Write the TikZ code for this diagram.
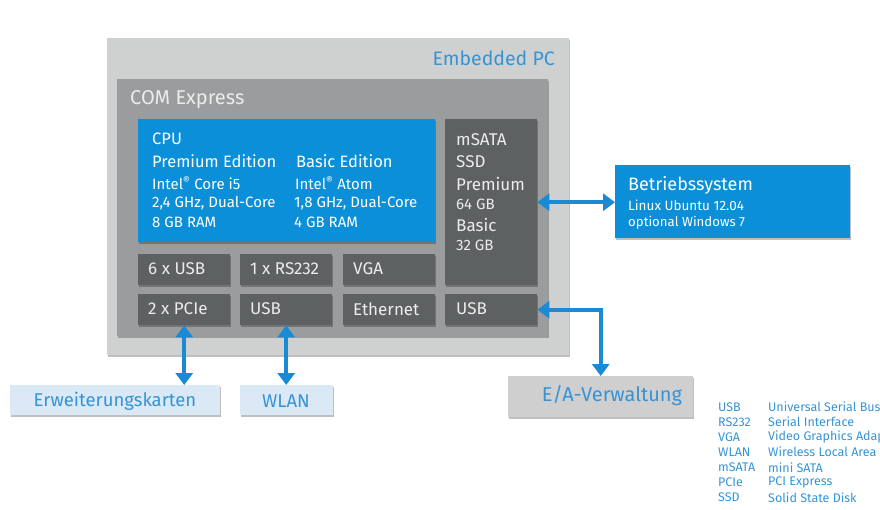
\documentclass[tikz,border=0pt]{standalone}
\usepackage{fontspec}
\setmainfont{Fira Sans}
\usetikzlibrary{arrows.meta,shadows}
\definecolor{outerGray}{HTML}{CFD0D0}
\definecolor{comGray}{HTML}{9A9C9D}
\definecolor{darkGray}{HTML}{5E6162}
\definecolor{cpuBlue}{HTML}{0A8FD8}
\definecolor{lightBlue}{HTML}{DBE9F6}
\definecolor{blueText}{HTML}{3594D6}
\definecolor{arrowBlue}{HTML}{1A8AD4}
\definecolor{boxText}{HTML}{ECECEC}
\definecolor{eaGray}{HTML}{CFCFCF}
\begin{document}
\begin{tikzpicture}[x=1pt,y=-1pt,
  shd/.style={drop shadow={shadow xshift=1pt,shadow yshift=-1.5pt,opacity=0.25,fill=black}},
  panel/.style={rectangle,anchor=north west,inner sep=0pt,shd},
  dbox/.style={panel,fill=darkGray,minimum width=92pt,minimum height=31pt},
  wtxt/.style={anchor=west,inner sep=0pt,text=boxText,font=\fontsize{17}{19}\selectfont},
  stxt/.style={anchor=west,inner sep=0pt,text=boxText,font=\fontsize{15}{17}\selectfont},
  ctxt/.style={anchor=west,inner sep=0pt,text=white,font=\fontsize{16.5}{18}\selectfont},
  cstxt/.style={anchor=west,inner sep=0pt,text=white,font=\fontsize{15}{17}\selectfont},
  ltxt/.style={anchor=west,inner sep=0pt,text=blueText,font=\fontsize{12.5}{14}\selectfont},
  conn/.style={draw=arrowBlue,line width=4pt,{Triangle[width=17pt,length=12pt]}-{Triangle[width=17pt,length=12pt]}}
]
\useasboundingbox (0,0) rectangle (880,509);
% outer box
\node[panel,fill=outerGray,minimum width=462pt,minimum height=317pt] (emb) at (107,38) {};
\node[anchor=east,inner sep=0pt,text=blueText,font=\fontsize{19.5}{21}\selectfont] (embT) at (555,58) {Embedded PC};
% COM Express
\node[panel,fill=comGray,minimum width=431pt,minimum height=257pt] (com) at (117,79) {};
\node[anchor=west,inner sep=0pt,text=boxText,font=\fontsize{20}{22}\selectfont] (comT) at (130,100) {COM Express};
% CPU
\node[panel,fill=cpuBlue,minimum width=297pt,minimum height=123pt] (cpu) at (138,119) {};
\node[ctxt] (cpuT) at (152,139) {CPU};
\node[ctxt] (premT) at (152,161) {Premium Edition};
\node[ctxt] (basT) at (296,161) {Basic Edition};
\node[cstxt] (p1) at (152,183) {Intel\textsuperscript{\textregistered} Core i5};
\node[cstxt] (p2) at (152,203) {2,4 GHz, Dual-Core};
\node[cstxt] (p3) at (152,222) {8 GB RAM};
\node[cstxt] (b1) at (295,183) {Intel\textsuperscript{\textregistered} Atom};
\node[cstxt] (b2) at (294,203) {1,8 GHz, Dual-Core};
\node[cstxt] (b3) at (294,222) {4 GB RAM};
% mSATA
\node[panel,fill=darkGray,minimum width=92pt,minimum height=166pt] (msata) at (445,119) {};
\node[wtxt] (m1) at (456,140) {mSATA};
\node[wtxt] (m2) at (456,162) {SSD};
\node[wtxt] (m3) at (456,184) {Premium};
\node[stxt] (m4) at (456,204) {64 GB};
\node[wtxt] (m5) at (456,225) {Basic};
\node[stxt] (m6) at (456,245) {32 GB};
% row 1
\node[dbox] (usb6) at (138,254) {};
\node[dbox] (rs) at (240,254) {};
\node[dbox] (vga) at (343,254) {};
\node[wtxt] (usb6T) at (148,269) {6 x USB};
\node[wtxt] (rsT) at (250,269) {1 x RS232};
\node[wtxt] (vgaT) at (353,269) {VGA};
% row 2
\node[dbox] (pcie) at (138,294) {};
\node[dbox] (usbB) at (240,294) {};
\node[dbox] (eth) at (343,294) {};
\node[dbox] (usbR) at (445,294) {};
\node[wtxt] (pcieT) at (148,309) {2 x PCIe};
\node[wtxt] (usbBT) at (250,309) {USB};
\node[wtxt] (ethT) at (353,309) {Ethernet};
\node[wtxt] (usbRT) at (456,309) {USB};
% Betriebssystem
\node[panel,fill=cpuBlue,minimum width=235pt,minimum height=73pt] (bs) at (615,165) {};
\node[anchor=west,inner sep=0pt,text=white,font=\fontsize{18}{20}\selectfont] (bs1) at (628,185) {Betriebssystem};
\node[anchor=west,inner sep=0pt,text=white,font=\fontsize{13.5}{15}\selectfont] (bs2) at (628,205) {Linux Ubuntu 12.04};
\node[anchor=west,inner sep=0pt,text=white,font=\fontsize{13.2}{15}\selectfont] (bs3) at (628,223) {optional Windows 7};
% external boxes
\node[panel,fill=lightBlue,minimum width=210pt,minimum height=30pt] (erw) at (10,385) {};
\node[inner sep=0pt,text=blueText,font=\fontsize{18.5}{20}\selectfont] (erwT) at (115,401) {Erweiterungskarten};
\node[panel,fill=lightBlue,minimum width=93pt,minimum height=30pt] (wlan) at (240,385) {};
\node[inner sep=0pt,text=blueText,font=\fontsize{18.5}{20}\selectfont] (wlanT) at (286,401) {WLAN};
\node[panel,fill=eaGray,minimum width=185pt,minimum height=41pt] (ea) at (508,376) {};
\node[inner sep=0pt,text=blueText,font=\fontsize{20}{22}\selectfont] (eaT) at (612,396) {E/A-Verwaltung};
% connectors
\draw[conn] (pcie.south) -- (erw.north -| pcie.south);
\draw[conn] (usbB.south) -- (wlan.north -| usbB.south);
\draw[conn] (usbR.east) -| (ea.north);
\draw[conn] (msata.east) -- (msata.east -| bs.west);
% legend
\node[ltxt] (la1) at (718,407) {USB};
\node[ltxt] (la2) at (718,422) {RS232};
\node[ltxt] (la3) at (718,437) {VGA};
\node[ltxt] (la4) at (718,452) {WLAN};
\node[ltxt] (la5) at (718,467.5) {mSATA};
\node[ltxt] (la6) at (718,482.5) {PCIe};
\node[ltxt] (la7) at (718,497.5) {SSD};
\node[ltxt] (ld1) at (768,407) {Universal Serial Bus};
\node[ltxt] (ld2) at (768,422) {Serial Interface};
\node[ltxt] (ld3) at (768,437) {Video Graphics Adapter};
\node[ltxt] (ld4) at (768,452) {Wireless Local Area Network};
\node[ltxt] (ld5) at (768,467.5) {mini SATA};
\node[ltxt] (ld6) at (768,482.5) {PCI Express};
\node[ltxt] (ld7) at (768,497.5) {Solid State Disk};
\end{tikzpicture}
\end{document}
